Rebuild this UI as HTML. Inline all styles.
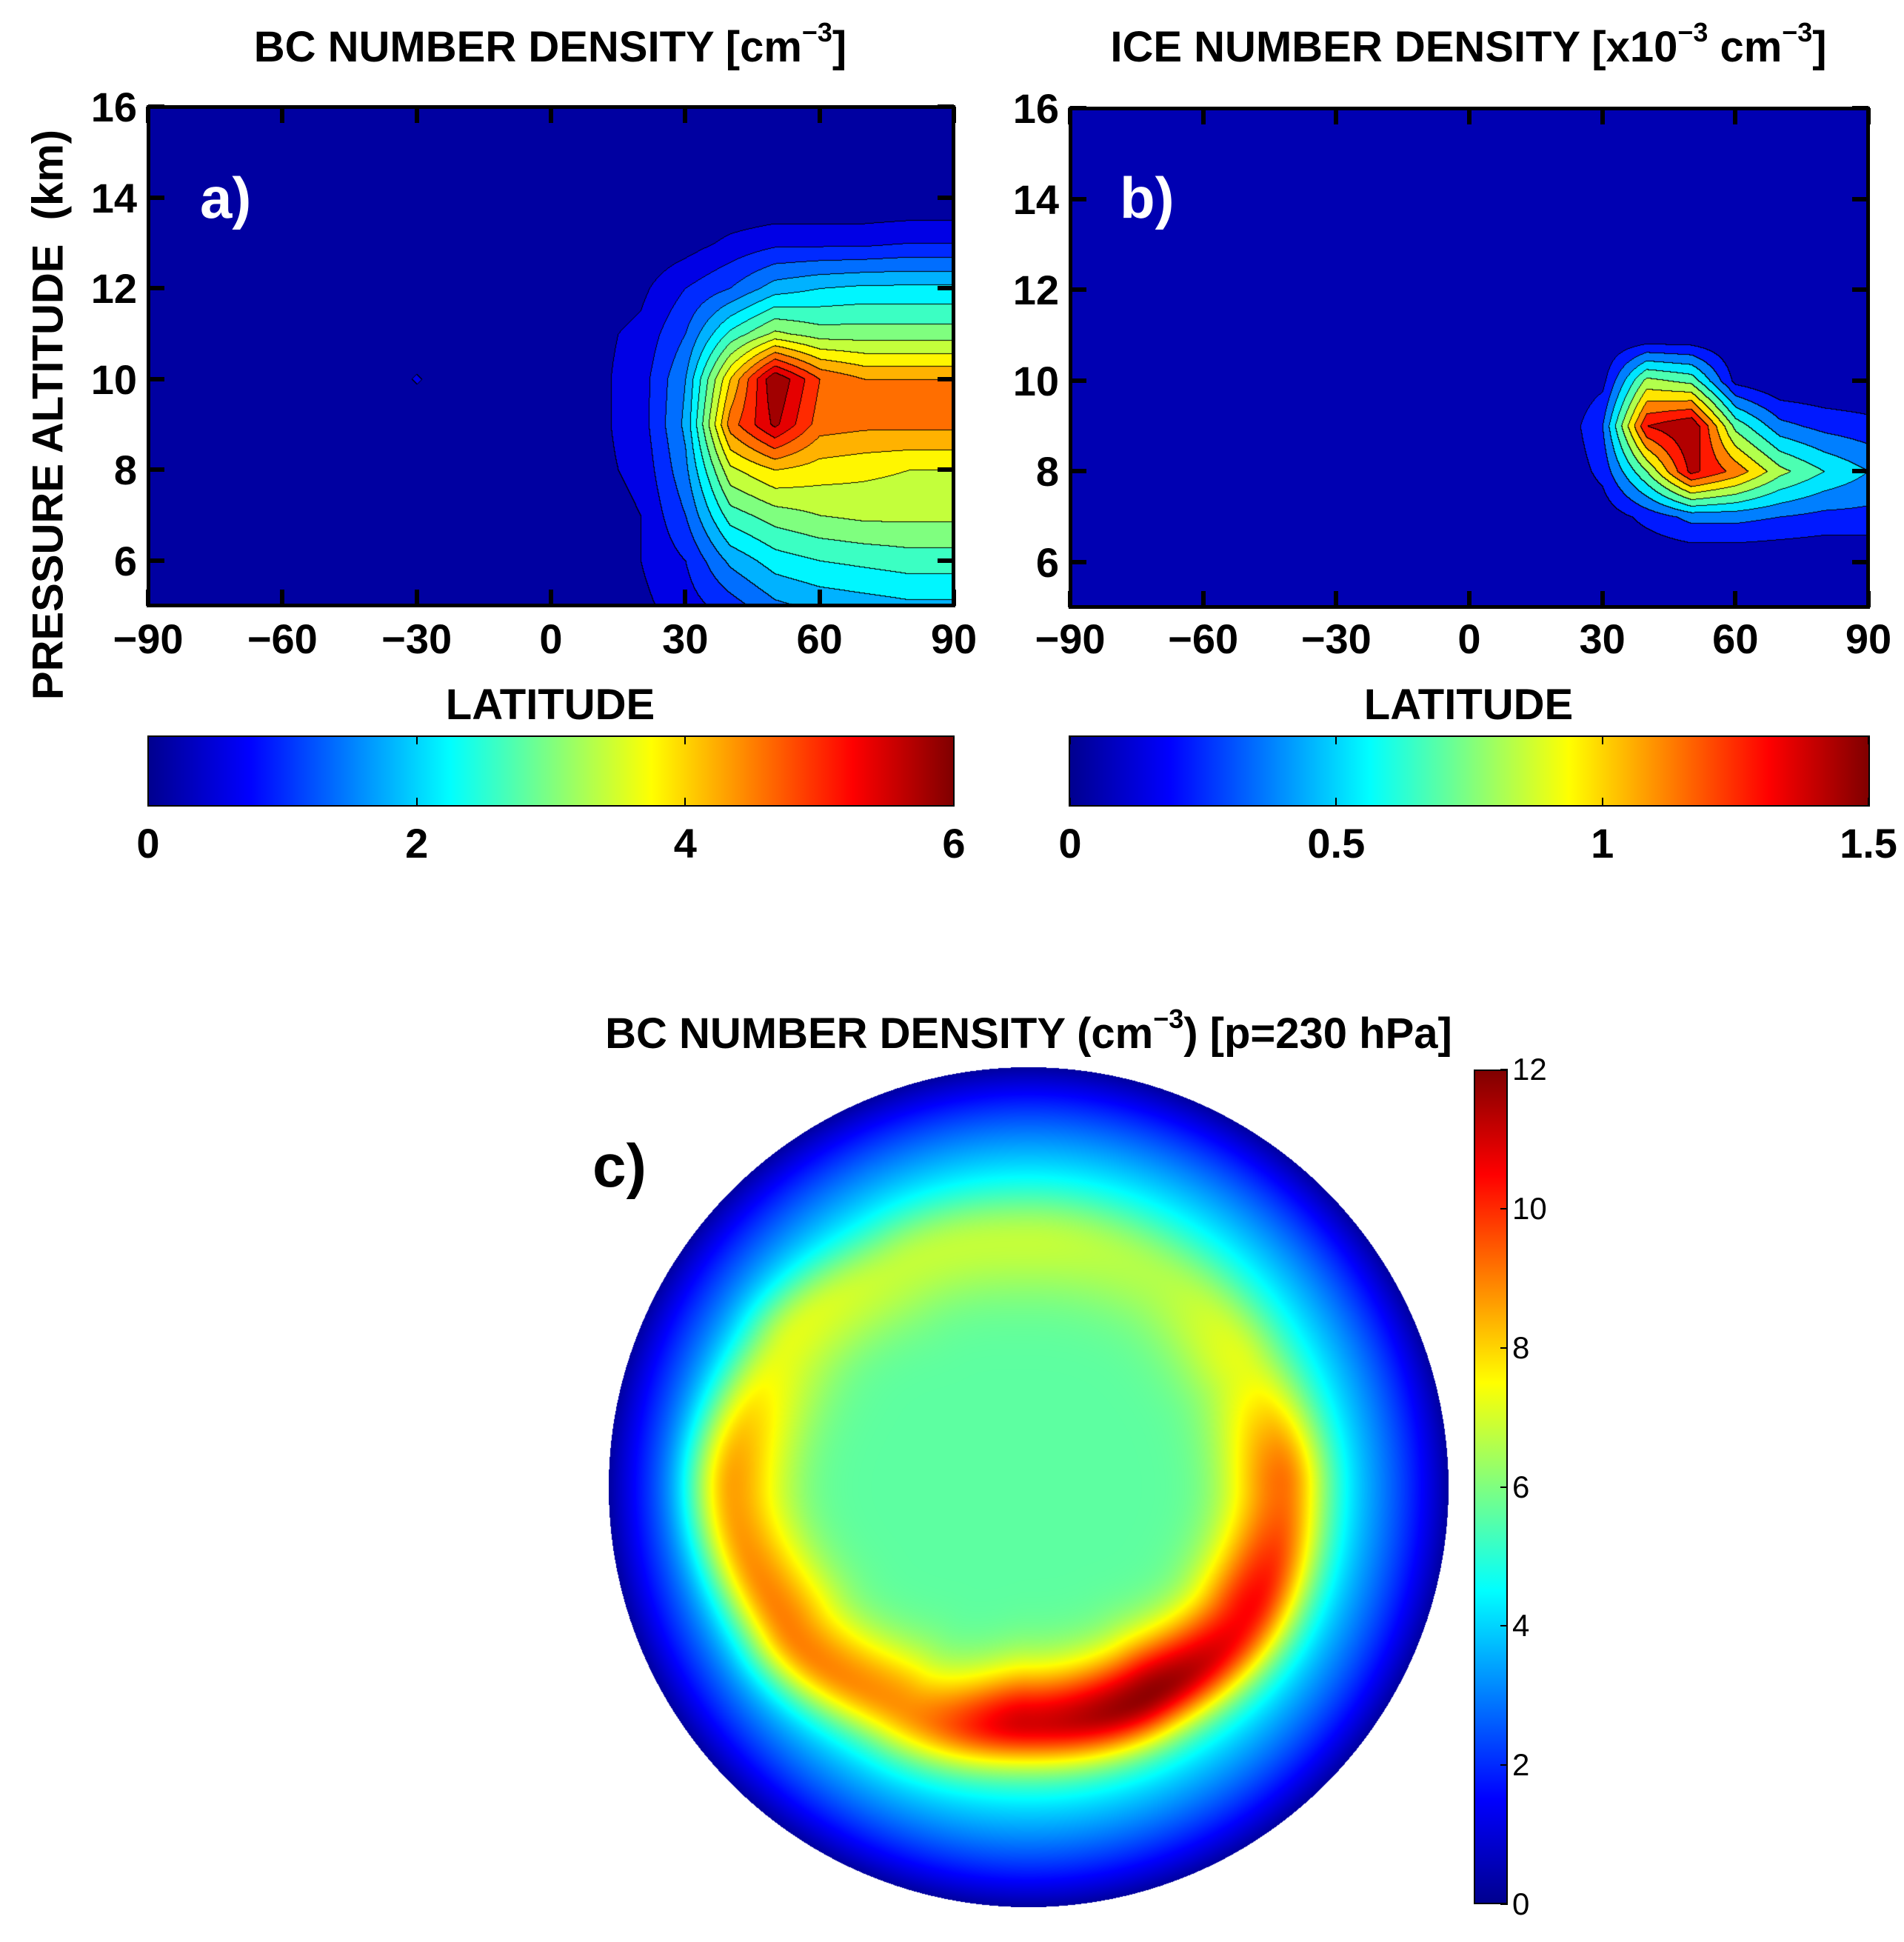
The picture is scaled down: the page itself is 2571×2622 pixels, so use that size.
<!DOCTYPE html>
<html><head><meta charset="utf-8">
<style>
body{margin:0;background:#fff;width:2571px;height:2622px;position:relative;overflow:hidden;font-family:"Liberation Sans",Arial,sans-serif;}
.abs{position:absolute;}
.t{position:absolute;font-weight:bold;color:#000;white-space:nowrap;}
.title{font-size:58px;transform:translateX(-50%);}
sup{font-size:0.62em;vertical-align:0.75em;line-height:0;}
.frame{position:absolute;border:5px solid #000;box-sizing:border-box;}
.cbar{position:absolute;border:2px solid #000;box-sizing:border-box;background:linear-gradient(to right,#00008F 0%,#0000FF 12.5%,#00FFFF 37.5%,#FFFF00 62.5%,#FF0000 87.5%,#800000 100%);}
.lab{position:absolute;font-weight:bold;color:#fff;font-size:78px;}
</style></head>
<body>
<script>
const latsA=[-90,-80,-70,-60,-50,-40,-30,-20,-10,0,10,20,30,40,50,60,70,80,90];
const altsA=[5,6,7,8,9,10,11,12,13,14,15,16];
const bcRows=[
[0,0,0,0,0,0,0,0,0,0,0.2,0.3,0.6,1.0,1.5,1.7,1.8,1.9,1.9],
[0,0,0,0,0,0,0,0,0,0,0.2,0.4,0.8,1.7,2.2,2.4,2.5,2.6,2.6],
[0,0,0,0,0,0,0,0,0,0,0.2,0.4,1.2,2.6,3.0,3.2,3.3,3.3,3.3],
[0,0,0,0,0,0,0,0,0,0,0.3,0.5,1.5,3.5,4.0,3.8,3.7,3.6,3.6],
[0,0,0,0,0,0,0,0,0,0,0.3,0.6,1.7,4.6,5.7,4.6,4.5,4.5,4.5],
[0,0,0,0,0,0,0.45,0,0,0,0.3,0.6,1.6,4.0,6.0,4.8,4.4,4.4,4.4],
[0,0,0,0,0,0,0,0,0,0,0.3,0.5,1.2,2.5,3.3,3.0,3.0,3.0,3.0],
[0,0,0,0,0,0,0,0,0,0,0.1,0.3,0.8,1.2,1.8,2.0,2.1,2.1,2.1],
[0,0,0,0,0,0,0,0,0,0,0,0.05,0.2,0.5,0.7,0.7,0.7,0.8,0.8],
[0,0,0,0,0,0,0,0,0,0,0,0,0,0,0,0,0,0,0],
[0,0,0,0,0,0,0,0,0,0,0,0,0,0,0,0,0,0,0],
[0,0,0,0,0,0,0,0,0,0,0,0,0,0,0,0,0,0,0]];
const iceRows=[
[0,0,0,0,0,0,0,0,0,0,0,0,0,0,0,0,0,0,0],
[0,0,0,0,0,0,0,0,0,0,0,0,0,0,0,0,0,0,0],
[0,0,0,0,0,0,0,0,0,0,0,0,0.05,0.2,0.35,0.35,0.3,0.25,0.25],
[0,0,0,0,0,0,0,0,0,0,0,0,0.2,0.75,1.4,1.15,0.8,0.6,0.45],
[0,0,0,0,0,0,0,0,0,0,0,0,0.3,1.35,1.5,0.7,0.35,0.25,0.2],
[0,0,0,0,0,0,0,0,0,0,0,0,0.1,0.8,0.7,0.1,0,0,0],
[0,0,0,0,0,0,0,0,0,0,0,0,0,0,0,0,0,0,0],
[0,0,0,0,0,0,0,0,0,0,0,0,0,0,0,0,0,0,0],
[0,0,0,0,0,0,0,0,0,0,0,0,0,0,0,0,0,0,0],
[0,0,0,0,0,0,0,0,0,0,0,0,0,0,0,0,0,0,0],
[0,0,0,0,0,0,0,0,0,0,0,0,0,0,0,0,0,0,0],
[0,0,0,0,0,0,0,0,0,0,0,0,0,0,0,0,0,0,0]];
const xTicks=[-90,-60,-30,0,30,60,90];
const yTicks=[6,8,10,12,14,16];
const cbTicksA=[0,2,4,6];
const cbTicksB=[0,0.5,1,1.5];
const ringAngles=[0,30,60,90,120,150,180,210,240,270,300,330];
const ringPeaks=[9.2,10.5,11.8,11.0,8.8,9.0,8.6,7.2,6.8,6.8,6.6,7.2];
const ringRadius=[0.6,0.6,0.57,0.56,0.6,0.66,0.7,0.66,0.6,0.58,0.58,0.58];
const poleValue=5.6;
const cbTicksC=[0,2,4,6,8,10,12];
</script>

<div class="t title" style="left:743px;top:30px;">BC NUMBER DENSITY [cm<sup>−3</sup>]</div>
<canvas id="cA" class="abs" style="left:200px;top:144px;" width="1088" height="674"></canvas>
<div class="frame" style="left:198px;top:142px;width:1092px;height:678px;"></div>
<div class="lab" style="left:270px;top:222px;">a)</div>
<div class="t" style="left:65px;top:560px;font-size:58px;transform:translate(-50%,-50%) rotate(-90deg);">PRESSURE ALTITUDE &nbsp;(km)</div>
<div class="t title" style="left:743px;top:918px;">LATITUDE</div>
<div class="cbar" style="left:199px;top:993px;width:1090px;height:96px;"></div>

<div class="t title" style="left:1983px;top:30px;">ICE NUMBER DENSITY [x10<sup>−3</sup> cm<sup>−3</sup>]</div>
<canvas id="cB" class="abs" style="left:1445px;top:146px;" width="1078" height="674"></canvas>
<div class="frame" style="left:1443px;top:144px;width:1082px;height:678px;"></div>
<div class="lab" style="left:1512px;top:222px;">b)</div>
<div class="t title" style="left:1983px;top:918px;">LATITUDE</div>
<div class="cbar" style="left:1443px;top:993px;width:1082px;height:96px;"></div>

<div class="t title" style="left:1389px;top:1362px;">BC NUMBER DENSITY (cm<sup>−3</sup>) [p=230 hPa]</div>
<canvas id="cC" class="abs" style="left:822px;top:1441px;" width="1134" height="1134"></canvas>
<div class="t" style="left:800px;top:1528px;font-size:82px;">c)</div>
<div class="abs" style="left:1990px;top:1444px;width:46px;height:1127px;border:2px solid #000;box-sizing:border-box;background:linear-gradient(to top,#00008F 0%,#0000FF 12.5%,#00FFFF 37.5%,#FFFF00 62.5%,#FF0000 87.5%,#800000 100%);"></div>

<div id="ticks"></div>
<script>
function jet(t){t=Math.max(0,Math.min(1,t));
 const r=Math.max(0,Math.min(1,Math.min(4*t-1.5,-4*t+4.5)));
 const g=Math.max(0,Math.min(1,Math.min(4*t-0.5,-4*t+3.5)));
 const b=Math.max(0,Math.min(1,Math.min(4*t+0.5,-4*t+2.5)));
 return [r*255|0,g*255|0,b*255|0];}
function bilin(rows,lat,alt){
 let fx=(lat-latsA[0])/10, fy=(alt-altsA[0])/1;
 let i=Math.min(latsA.length-2,Math.max(0,Math.floor(fx))), j=Math.min(altsA.length-2,Math.max(0,Math.floor(fy)));
 let tx=fx-i, ty=fy-j;
 return rows[j][i]*(1-tx)*(1-ty)+rows[j][i+1]*tx*(1-ty)+rows[j+1][i]*(1-tx)*ty+rows[j+1][i+1]*tx*ty;}
function drawContour(id,rows,vmax,nlev){
 const c=document.getElementById(id),ctx=c.getContext('2d'),W=c.width,H=c.height;
 const img=ctx.createImageData(W,H),L=new Int16Array(W*H);
 const lat=x=>x/W*180-90, alt=y=>16-y/H*11;
 for(let y=0;y<H;y++)for(let x=0;x<W;x++){
  let v=bilin(rows,lat(x+0.5),alt(y+0.5));
  L[y*W+x]=Math.min(nlev-1,Math.max(0,Math.floor(v/vmax*nlev)));}
 for(let y=0;y<H;y++)for(let x=0;x<W;x++){
  const k=L[y*W+x];let col=jet((k+0.5)/nlev);
  if((x>0&&L[y*W+x-1]!=k)||(y>0&&L[(y-1)*W+x]!=k))col=[0,0,0];
  const p=4*(y*W+x);img.data[p]=col[0];img.data[p+1]=col[1];img.data[p+2]=col[2];img.data[p+3]=255;}
 ctx.putImageData(img,0,0);}
drawContour('cA',bcRows,6,15);
drawContour('cB',iceRows,1.5,10);

(function(){
 const c=document.getElementById('cC'),ctx=c.getContext('2d'),W=c.width,R=W/2;
 const img=ctx.createImageData(W,W);
 function ringVal(arr,ang){let a=(ang%360+360)%360,s=30,i=Math.floor(a/s),t=(a-i*s)/s;
  let v0=arr[i%arr.length],v1=arr[(i+1)%arr.length];t=t*t*(3-2*t);return v0*(1-t)+v1*t;}
 for(let y=0;y<W;y++)for(let x=0;x<W;x++){
  const dx=x+0.5-R,dy=y+0.5-R,r=Math.sqrt(dx*dx+dy*dy)/R,p=4*(y*W+x);
  if(r>1)continue;
  const ang=Math.atan2(dy,dx)*180/Math.PI;
  const pk=ringVal(ringPeaks,ang),rp=ringVal(ringRadius,ang);
  let base=r<0.55?poleValue:poleValue*Math.max(0,1-Math.pow((r-0.55)/0.47,1.6));
  let w=r<rp?0.13:0.1;
  let v=base+(pk-base)*Math.exp(-Math.pow((r-rp)/w,2));
  const col=jet(v/12);
  img.data[p]=col[0];img.data[p+1]=col[1];img.data[p+2]=col[2];img.data[p+3]=255;}
 ctx.putImageData(img,0,0);
})();

const T=document.getElementById('ticks');
function add(html,css,name){const d=document.createElement('div');d.innerHTML=html;d.style.cssText=css;
 
 
 T.appendChild(d);return d;}
function axes(x0,x1,y0,y1,pref){
 xTicks.forEach(v=>{const x=x0+(v+90)/180*(x1-x0);
  add('','position:absolute;left:'+(x-3)+'px;top:'+y0+'px;width:6px;height:22px;background:#000;',pref+'-x-tick-top');
  add('','position:absolute;left:'+(x-3)+'px;top:'+(y1-22)+'px;width:6px;height:22px;background:#000;',pref+'-x-tick-bottom');
  add((v<0?'−':'')+Math.abs(v),'position:absolute;left:'+x+'px;top:830px;font-size:56px;font-weight:bold;transform:translateX(-50%);',pref+'-x-tick-label');});
 yTicks.forEach(v=>{const y=y1-(v-5)/11*(y1-y0);
  add('','position:absolute;left:'+x0+'px;top:'+(y-3)+'px;width:22px;height:6px;background:#000;',pref+'-y-tick-left');
  add('','position:absolute;left:'+(x1-22)+'px;top:'+(y-3)+'px;width:22px;height:6px;background:#000;',pref+'-y-tick-right');
  add(String(v),'position:absolute;left:'+(x0-135)+'px;width:120px;text-align:right;top:'+(y-32)+'px;font-size:56px;font-weight:bold;',pref+'-y-tick-label');});}
axes(200,1288,144,818,'panel-a');
axes(1445,2523,146,820,'panel-b');
function cb(x0,x1,ticks,max,pref){ticks.forEach(v=>{const x=x0+v/max*(x1-x0);
 add('','position:absolute;left:'+(x-1)+'px;top:993px;width:2px;height:12px;background:#000;',pref+'-tick');
 add('','position:absolute;left:'+(x-1)+'px;top:1077px;width:2px;height:12px;background:#000;',pref+'-tick');
 add(String(v),'position:absolute;left:'+x+'px;top:1106px;font-size:56px;font-weight:bold;transform:translateX(-50%);',pref+'-tick-label');});}
cb(200,1288,cbTicksA,6,'panel-a-colorbar');
cb(1445,2523,cbTicksB,1.5,'panel-b-colorbar');
cbTicksC.forEach(v=>{const y=2571-v/12*(2571-1444);
 add('','position:absolute;left:2026px;top:'+(y-1)+'px;width:10px;height:2px;background:#000;','panel-c-colorbar-tick');
 add(String(v),'position:absolute;left:2042px;top:'+(y-24)+'px;font-size:42px;','panel-c-colorbar-tick-label');});
</script>
</body></html>
